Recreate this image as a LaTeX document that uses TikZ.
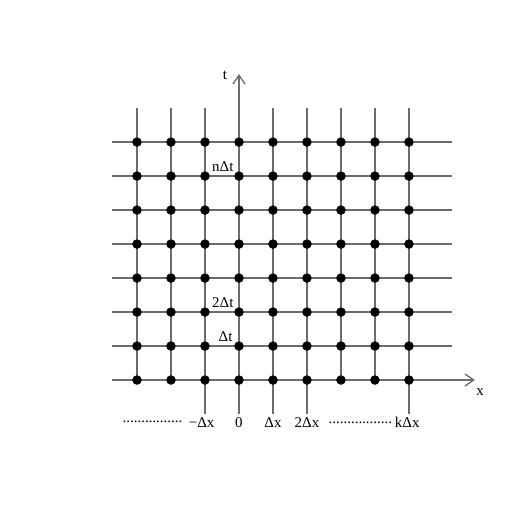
\documentclass[tikz,border=0pt]{standalone}
\usepackage{fontspec}
\setmainfont{Liberation Serif}
\usetikzlibrary{arrows.meta, positioning}

\begin{document}
\begin{tikzpicture}[
      gridline/.style={draw=gray!85!black, line width=1.1pt},
      axis/.style={gridline, -{Straight Barb[length=2.6mm, width=3.6mm]}},
      pt/.style={circle, fill=black, inner sep=0pt, minimum size=2.8mm},
      lbl/.style={font=\fontsize{12.5}{14}\selectfont, inner sep=1pt},
      xlbl/.style={lbl, anchor=north}
    ]
      \useasboundingbox[fill=white] (-7.03,-4.47) rectangle (7.88,11.18);

      % horizontal lines
      \foreach \j in {1,...,7} {
        \coordinate (hl\j) at (-3.74,\j);
        \coordinate (hr\j) at (6.26,\j);
        \draw[gridline] (hl\j) -- (hr\j);
      }
      % vertical lines
      \foreach \i/\b in {-3/0,-2/0,-1/-1,1/-1,2/-1,3/0,4/0,5/-1} {
        \coordinate (vb\i) at (\i,\b);
        \coordinate (vt\i) at (\i,8);
        \draw[gridline] (vb\i) -- (vt\i);
      }

      % axes
      \coordinate (xl) at (-3.74,0);
      \coordinate (xr) at (6.94,0);
      \coordinate (tb) at (0,-1);
      \coordinate (tt) at (0,9);
      \draw[axis] (xl) -- (xr);
      \draw[axis] (tb) -- (tt);
      \node[lbl] (xname) at (7.09,-0.35) {x};
      \node[lbl] (tname) at (-0.41,8.97) {t};

      % grid points
      \foreach \i in {-3,...,5} {
        \foreach \j in {0,...,7} {
          \node[pt] (p\i\j) at (\i,\j) {};
        }
      }

      % time labels
      \node[lbl, anchor=south east] (ndt) at (-0.12,6.08) {nΔt};
      \node[lbl, anchor=south east] (twodt) at (-0.12,2.08) {2Δt};
      \node[lbl, anchor=south east] (dt) at (-0.15,1.08) {Δt};

      % space labels
      \node[xlbl] (mdx) at (-1.1,-1.05) {−Δx};
      \node[xlbl] (zero) at (0,-1.05) {0};
      \node[xlbl] (dx) at (1,-1.05) {Δx};
      \node[xlbl] (twodx) at (2,-1.05) {2Δx};
      \node[xlbl] (kdx) at (4.95,-1.05) {kΔx};
      \node[lbl, left=3pt of mdx] (ldots) {................};
      \node[lbl, left=0pt of kdx] (rdots) {.................};
    \end{tikzpicture}
\end{document}
